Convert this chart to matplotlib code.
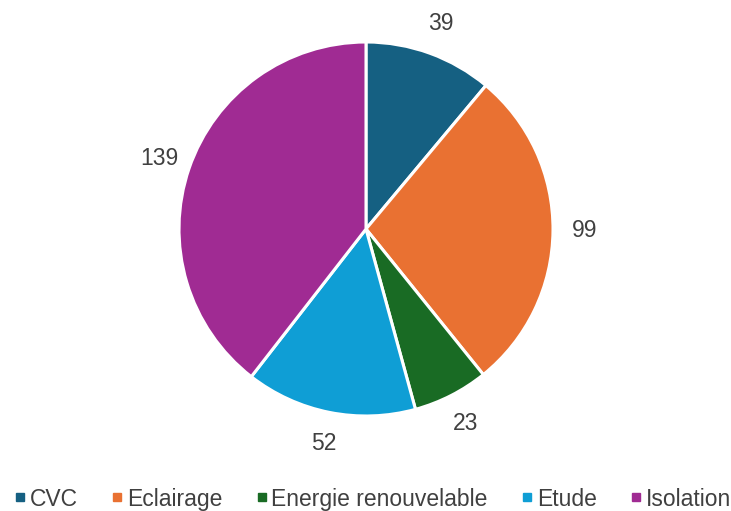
import matplotlib
matplotlib.use("Agg")
import matplotlib.pyplot as plt
from matplotlib.lines import Line2D
import numpy as np

categories = ["CVC", "Eclairage", "Energie renouvelable", "Etude", "Isolation"]
values = [39, 99, 23, 52, 139]
colors = ["#156082", "#E97132", "#196B24", "#0F9ED5", "#A02B93"]

plt.rcParams['font.family'] = ['Liberation Sans', 'DejaVu Sans']

W, H = 731, 511
fig = plt.figure(figsize=(W / 100, H / 100), dpi=100)
ax = fig.add_axes([0, 0, 1, 1])

cx, cy, r = 366, H - 229, 187
wedges, _ = ax.pie(values, colors=colors, startangle=90, counterclock=False,
                   center=(cx, cy), radius=r, frame=True,
                   wedgeprops=dict(edgecolor='white', linewidth=2.2))
ax.set_xlim(0, W)
ax.set_ylim(0, H)
ax.set_aspect('equal')
ax.axis('off')

for w, v in zip(wedges, values):
    ang = np.deg2rad((w.theta1 + w.theta2) / 2)
    d = r * 1.17
    ax.text(cx + d * np.cos(ang), cy + d * np.sin(ang), str(v),
            ha='center', va='center', fontsize=16.5, color='#404040')

handles = [Line2D([], [], marker='s', linestyle='none', markersize=6,
                  markerfacecolor=c, markeredgecolor=c) for c in colors]
fig.legend(handles, categories, loc='center', bbox_to_anchor=(0.511, 1 - 499 / H),
           ncol=5, frameon=False, fontsize=16.5, labelcolor='#404040',
           handlelength=0.35, handletextpad=0.25, columnspacing=1.55,
           borderpad=0, borderaxespad=0)

fig.savefig("out.png", dpi=100)
